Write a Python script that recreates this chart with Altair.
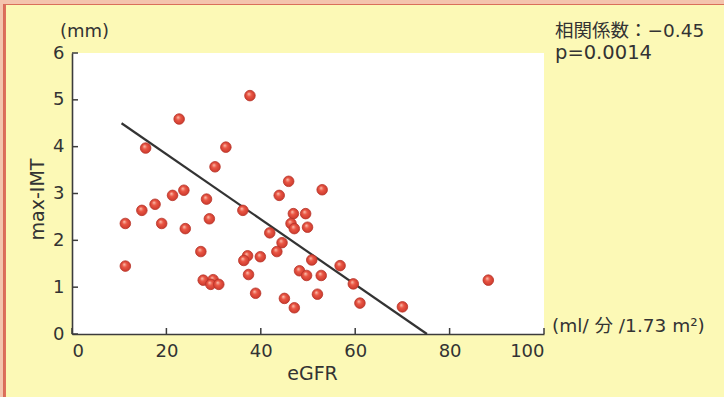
import altair as alt
import pandas as pd

# ---- data ----
egfr = [37.7, 22.7, 15.6, 32.6, 30.3, 45.9, 23.7, 21.3, 43.9, 28.5,
        53.0, 17.6, 14.8, 36.2, 11.3, 19.0, 29.1, 24.0, 46.9, 49.5,
        46.4, 47.1, 49.9, 41.9, 44.5, 43.4, 27.3, 11.3, 37.2, 36.4,
        39.9, 37.4, 48.2, 49.7, 50.8, 27.8, 29.9, 29.4, 31.1, 38.9,
        45.0, 47.1, 56.8, 52.8, 59.6, 88.2, 52.0, 61.0, 70.0]
imt = [5.09, 4.59, 3.97, 3.99, 3.57, 3.26, 3.07, 2.96, 2.96, 2.88,
       3.08, 2.77, 2.64, 2.64, 2.36, 2.36, 2.46, 2.25, 2.57, 2.57,
       2.36, 2.25, 2.28, 2.16, 1.95, 1.76, 1.76, 1.45, 1.67, 1.57,
       1.65, 1.27, 1.35, 1.25, 1.58, 1.15, 1.16, 1.06, 1.06, 0.87,
       0.76, 0.56, 1.46, 1.25, 1.07, 1.15, 0.85, 0.66, 0.58]
fit_x = [10.5, 75.2]
fit_y = [4.50, 0.0]
x_ticks = [0, 20, 40, 60, 80, 100]
y_ticks = [0, 1, 2, 3, 4, 5, 6]
corr_text = "相関係数：−0.45"
p_text = "p=0.0014"
y_unit = "(mm)"
x_unit = "(ml/ 分 /1.73 m²)"

W, H = 472, 281
PL, PT = 72, 53
FONT = "DejaVu Sans, Noto Sans CJK JP"
TXT = "#333333"
AX = "#3c3c3c"
BG = "#fcf9b6"

pts = pd.DataFrame({"eGFR": egfr, "IMT": imt})
fit = pd.DataFrame({"eGFR": fit_x, "IMT": fit_y})
xt = pd.DataFrame({"v": x_ticks})
yt = pd.DataFrame({"v": y_ticks})

xs = alt.Scale(domain=[0, 100], nice=False, zero=False)
ys = alt.Scale(domain=[0, 6], nice=False, zero=False)

x_axis = alt.Axis(values=x_ticks, tickSize=0, labelFont=FONT, labelFontSize=18,
                  labelColor=TXT, labelPadding=8, domainColor=AX, domainWidth=1.6,
                  grid=False, title="eGFR", titleFont=FONT, titleFontSize=19,
                  titleFontWeight="normal", titleColor=TXT, titleX=240, titleY=39,
                  titleBaseline="middle", titleAlign="center")
y_axis = alt.Axis(values=y_ticks, tickSize=0, labelFont=FONT, labelFontSize=18,
                  labelColor=TXT, labelPadding=8, domainColor=AX, domainWidth=1.6,
                  grid=False, title="max-IMT", titleFont=FONT, titleFontSize=19,
                  titleFontWeight="normal", titleColor=TXT, titleX=-35, titleY=146,
                  titleAngle=270, titleBaseline="middle", titleAlign="center")

grad = {
    "gradient": "radial",
    "x1": 0.38, "y1": 0.32, "r1": 0.0,
    "x2": 0.5, "y2": 0.5, "r2": 0.55,
    "stops": [
        {"offset": 0.0, "color": "#fcc8b6"},
        {"offset": 0.4, "color": "#ea5644"},
        {"offset": 1.0, "color": "#c8362a"},
    ],
}

points = alt.Chart(pts).mark_circle(size=112, fill=grad, stroke="#b8352a",
                                    strokeWidth=0.8, opacity=1).encode(
    x=alt.X("eGFR:Q", scale=xs, axis=x_axis),
    y=alt.Y("IMT:Q", scale=ys, axis=y_axis),
)

line = alt.Chart(fit).mark_line(color="#333333", strokeWidth=2.2).encode(
    x=alt.X("eGFR:Q", scale=xs), y=alt.Y("IMT:Q", scale=ys))

xticks = alt.Chart(xt).mark_rule(color=AX, strokeWidth=1.5).encode(
    x=alt.X("v:Q", scale=xs), y=alt.value(H), y2=alt.value(H - 6))
yticks = alt.Chart(yt).mark_rule(color=AX, strokeWidth=1.5).encode(
    y=alt.Y("v:Q", scale=ys), x=alt.value(0), x2=alt.value(6))

# frame decoration (pink band with red inner line, top and left)
band_top = alt.Chart(pts).mark_rect(color="#f4c4ad").encode(
    x=alt.value(-PL), x2=alt.value(724 - PL), y=alt.value(-PT), y2=alt.value(-PT + 4))
band_left = alt.Chart(pts).mark_rect(color="#f4c4ad").encode(
    x=alt.value(-PL), x2=alt.value(-PL + 4), y=alt.value(-PT), y2=alt.value(397 - PT))
rule_top = alt.Chart(pts).mark_rule(color="#d9705a", strokeWidth=1.2).encode(
    x=alt.value(-PL + 4), x2=alt.value(724 - PL), y=alt.value(-PT + 4.5))
rule_left = alt.Chart(pts).mark_rule(color="#d9705a", strokeWidth=1.2).encode(
    x=alt.value(-PL + 4.5), y=alt.value(-PT + 4), y2=alt.value(397 - PT))

def label(text, x, y, size=17, align="left"):
    return alt.Chart(pd.DataFrame({"t": [text]})).mark_text(
        font=FONT, fontSize=size, color=TXT, align=align, baseline="middle").encode(
        text="t:N", x=alt.value(x), y=alt.value(y))

t_mm = label(y_unit, 60 - PL, 32 - PT, size=18)
t_unit = label(x_unit, 552 - PL, 326 - PT, size=18.5)
t_corr = label(corr_text, 555 - PL, 31 - PT, size=18.5)
t_p = label(p_text, 555 - PL, 53 - PT, size=19.5)

chart = alt.layer(
    band_top, band_left, rule_top, rule_left,
    line, points, xticks, yticks,
    t_mm, t_unit, t_corr, t_p,
).properties(
    width=W, height=H,
    autosize=alt.AutoSizeParams(type="none"),
    padding={"left": PL, "top": PT, "right": 724 - PL - W, "bottom": 397 - PT - H},
    background=BG,
).configure_view(fill="white", stroke=None)

chart.save("out.html", embed_options={"renderer": "svg", "actions": False})
